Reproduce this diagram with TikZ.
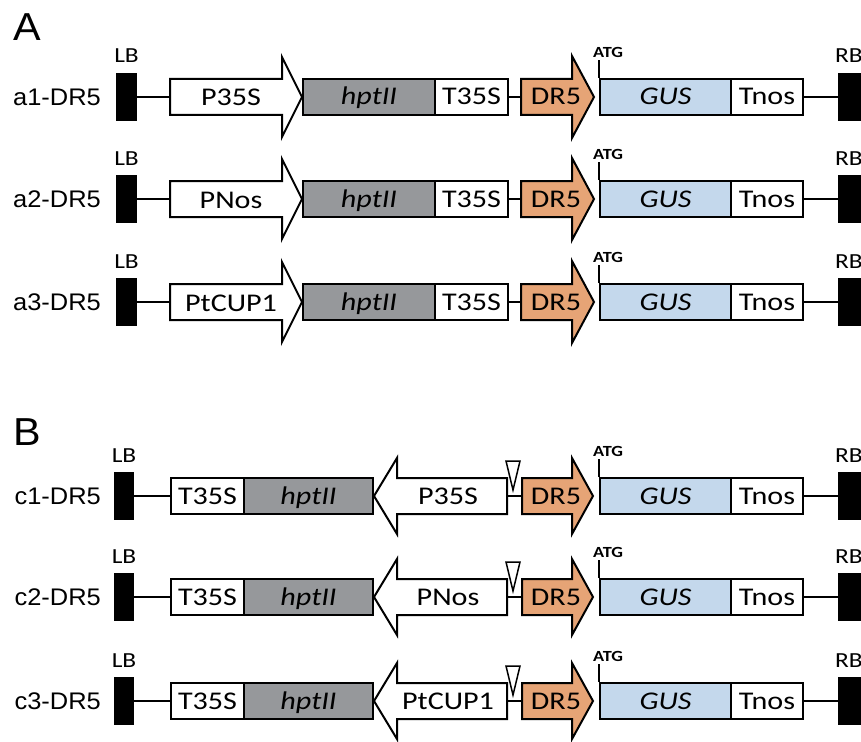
\documentclass[tikz,border=0pt]{standalone}
\usepackage{fontspec}
\setmainfont{Carlito}[FakeStretch=1.18]
\newfontfamily\arialf{Liberation Sans}[FakeStretch=1.06]
\definecolor{hptgray}{RGB}{150,152,155}
\definecolor{gusblue}{RGB}{196,216,236}
\definecolor{drorange}{RGB}{230,164,118}
\newcommand\partfont{\fontsize{25.5}{25.5}\selectfont}
\tikzset{
  outl/.style={draw=black, line width=2pt},
  part/.style={outl, anchor=west, minimum height=36pt, inner sep=0pt, text height=17pt, text depth=1pt, font=\partfont},
  wpart/.style={part, fill=white},
  gpart/.style={part, fill=hptgray, font=\partfont\itshape},
  bpart/.style={part, fill=gusblue, font=\partfont\itshape},
  bord/.style={fill=black, draw=none, minimum height=48pt, inner sep=0pt},
  bordlab/.style={font=\fontsize{21.5}{21.5}\selectfont, text height=14pt, text depth=0pt, inner sep=0pt},
  rowlab/.style={font=\arialf\fontsize{24}{24}\selectfont, anchor=east, inner sep=0pt},
  conn/.style={line width=2pt},
  prom/.style={outl, fill=white},
  drarrow/.style={outl, fill=drorange},
  arrlab/.style={font=\partfont, text height=17pt, text depth=1pt, inner sep=0pt},
  atglab/.style={font=\bfseries\fontsize{15.5}{15.5}\selectfont, anchor=west, inner sep=0pt},
  insmark/.style={draw=black, line width=1.5pt, fill=white},
  panel/.style={font=\arialf\fontsize{39}{39}\selectfont, inner sep=0pt}
}
% common right half: DR5 from #2, tip #3, head half-height #4, row y #1, suffix #5
\newcommand\rightpart[5]{%
  \coordinate (dw#5) at (#2,#1);
  \draw[drarrow] (#2,#1-18) -- (572,#1-18) -- (572,#1-#4) -- (#3,#1) -- (572,#1+#4) -- (572,#1+18) -- (#2,#1+18) -- cycle;
  \node[arrlab] (dr#5) at (556,#1) {DR5};
  \node[bpart, minimum width=131pt] (g#5) at (599,#1) {GUS};
  \coordinate (atg#5) at (599,#1-37);
  \draw[conn] (g#5.north west) -- (atg#5);
  \node[atglab] (atgt#5) at (593,#1-45) {ATG};
  \node[wpart, minimum width=72pt] (tn#5) at (730,#1) {Tnos};
  \node[bord, minimum width=24pt] (rb#5) at (850,#1) {};
  \node[bordlab, anchor=west] (rbt#5) at (835,#1-41) {RB};
  \draw[conn] (tn#5.east) -- (rb#5.west);
}
\newcommand\rowA[4]{%
  \node[rowlab] (lab#4) at (101,#1) {#2};
  \node[bord, minimum width=21pt] (lb#4) at (126.5,#1) {};
  \node[bordlab] (lbt#4) at (126.5,#1-41) {LB};
  \coordinate (pw#4) at (170,#1);
  \draw[conn] (lb#4.east) -- (pw#4);
  \draw[prom] (170,#1-18) -- (282,#1-18) -- (282,#1-40) -- (302,#1) -- (282,#1+40) -- (282,#1+18) -- (170,#1+18) -- cycle;
  \node[arrlab] (p#4) at (231,#1+1) {#3};
  \node[gpart, minimum width=132pt] (h#4) at (302,#1) {hptII};
  \node[wpart, minimum width=73pt] (t#4) at (434,#1) {T35S};
  \rightpart{#1}{521}{594}{41}{#4}
  \draw[conn] (t#4.east) -- (dw#4);
}
\newcommand\rowC[4]{%
  \node[rowlab] (lab#4) at (101,#1) {#2};
  \node[bord, minimum width=20pt] (lb#4) at (124,#1) {};
  \node[bordlab] (lbt#4) at (124,#1-41) {LB};
  \node[wpart, minimum width=73pt] (t#4) at (170,#1) {T35S};
  \draw[conn] (lb#4.east) -- (t#4.west);
  \node[gpart, minimum width=129pt] (h#4) at (243,#1) {hptII};
  \draw[prom] (507,#1-18) -- (397,#1-18) -- (397,#1-38) -- (374,#1) -- (397,#1+38) -- (397,#1+18) -- (507,#1+18) -- cycle;
  \coordinate (pe#4) at (507,#1);
  \node[arrlab] (p#4) at (448,#1) {#3};
  \rightpart{#1}{522}{593}{38}{#4}
  \draw[conn] (pe#4) -- (dw#4);
  \draw[insmark] (506,#1-35) -- (520,#1-35) -- (513,#1-6) -- cycle;
}
\begin{document}
\begin{tikzpicture}[x=1pt,y=-1pt]
\useasboundingbox (0,0) rectangle (861,741);
\clip (0,0) rectangle (861,741);
\node[panel] (pA) at (27,27) {A};
\node[panel] (pB) at (27,432) {B};
\rowA{97}{a1-DR5}{P35S}{a1}
\rowA{199}{a2-DR5}{PNos}{a2}
\rowA{302}{a3-DR5}{PtCUP1}{a3}
\rowC{496}{c1-DR5}{P35S}{c1}
\rowC{597}{c2-DR5}{PNos}{c2}
\rowC{701}{c3-DR5}{PtCUP1}{c3}
\end{tikzpicture}
\end{document}
